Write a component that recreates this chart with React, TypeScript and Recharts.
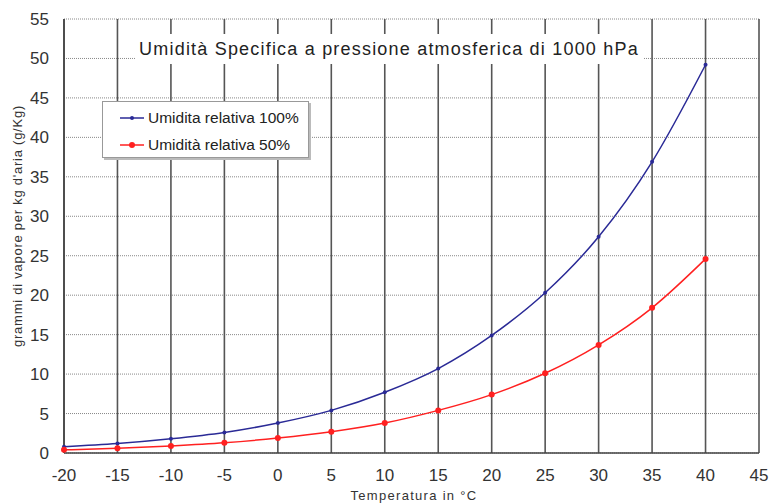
import { LineChart, Line, XAxis, YAxis, CartesianGrid, Label } from 'recharts';

const temperature = [-20, -15, -10, -5, 0, 5, 10, 15, 20, 25, 30, 35, 40];
const rh100 = [0.8, 1.2, 1.8, 2.6, 3.8, 5.4, 7.7, 10.7, 14.9, 20.3, 27.4, 36.9, 49.2];
const rh50 = [0.4, 0.6, 0.9, 1.3, 1.9, 2.7, 3.8, 5.4, 7.4, 10.1, 13.7, 18.4, 24.6];
const xTicks = [-20, -15, -10, -5, 0, 5, 10, 15, 20, 25, 30, 35, 40, 45];
const yTicks = [0, 5, 10, 15, 20, 25, 30, 35, 40, 45, 50, 55];

const data = temperature.map((t, i) => ({ t, rh100: rh100[i], rh50: rh50[i] }));

const font = '"Liberation Sans", Arial, sans-serif';

const series = [
  { key: 'rh100', name: 'Umidita relativa 100%', color: '#2a2a96', r: 2 },
  { key: 'rh50', name: 'Umidità relativa 50%', color: '#ff2020', r: 3 },
];

const axisTitle = { fill: '#333', fontSize: 13, fontFamily: font };

const LegendBox = () => (
  <div
    style={{
      position: 'absolute',
      left: 102,
      top: 101,
      width: 207,
      height: 57,
      boxSizing: 'border-box',
      background: '#fff',
      border: '1px solid #999',
      boxShadow: '2px 2px 0 #bbb',
      padding: '2px 0 0 17px',
      fontFamily: font,
      fontSize: 15.5,
      color: '#222',
      whiteSpace: 'nowrap',
    }}
  >
    {series.map((e) => (
      <div key={e.key} style={{ display: 'flex', alignItems: 'center', height: 27 }}>
        <svg width={24} height={10} style={{ marginRight: 4 }}>
          <line x1={0} y1={5} x2={24} y2={5} stroke={e.color} strokeWidth={1.5} />
          <circle cx={12} cy={5} r={e.r} fill={e.color} />
        </svg>
        {e.name}
      </div>
    ))}
  </div>
);

export default function App() {
  return (
    <div style={{ position: 'absolute', left: 0, top: 0, width: 770, height: 503, background: '#fff' }}>
      <LineChart
        width={770}
        height={503}
        data={data}
        margin={{ top: 19, right: 11, left: 14, bottom: 20 }}
      >
        <CartesianGrid vertical={false} stroke="#888" strokeDasharray="1 1" />
        <CartesianGrid horizontal={false} stroke="#555" strokeWidth={1.6} />
        <XAxis
          type="number"
          dataKey="t"
          domain={[-20, 45]}
          ticks={xTicks}
          interval={0}
          tickLine={false}
          axisLine={{ stroke: '#444', strokeWidth: 1.6 }}
          tick={{ fill: '#333', fontSize: 17, fontFamily: font }}
          tickMargin={10}
          height={30}
        >
          <Label
            content={() => (
              <text x={414} y={495} textAnchor="middle" dominantBaseline="central" letterSpacing={1.3} style={axisTitle}>
                Temperatura in °C
              </text>
            )}
          />
        </XAxis>
        <YAxis
          type="number"
          domain={[0, 55]}
          ticks={yTicks}
          interval={0}
          tickLine={false}
          axisLine={{ stroke: '#444', strokeWidth: 1.6 }}
          tick={{ fill: '#333', fontSize: 17, fontFamily: font }}
          tickMargin={9}
          width={50}
        >
          <Label
            content={() => (
              <text
                x={17}
                y={226}
                transform="rotate(-90 17 226)"
                textAnchor="middle"
                dominantBaseline="central"
                letterSpacing={0.75}
                style={axisTitle}
              >
                grammi di vapore per kg d'aria (g/Kg)
              </text>
            )}
          />
        </YAxis>
        {series.map((s) => (
          <Line
            key={s.key}
            type="monotone"
            dataKey={s.key}
            name={s.name}
            stroke={s.color}
            strokeWidth={1.5}
            dot={{ r: s.r, fill: s.color, stroke: 'none' }}
            isAnimationActive={false}
          />
        ))}
      </LineChart>
      <div
        style={{
          position: 'absolute',
          left: 135,
          top: 34,
          width: 508,
          height: 30,
          background: '#fff',
          fontFamily: font,
          fontSize: 18,
          letterSpacing: 1.2,
          color: '#222',
          textAlign: 'center',
          lineHeight: '30px',
        }}
      >
        Umidità Specifica a pressione atmosferica di 1000 hPa
      </div>
      <LegendBox />
    </div>
  );
}
